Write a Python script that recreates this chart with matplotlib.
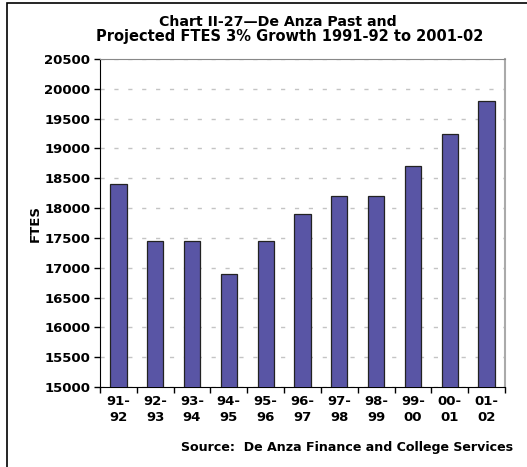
import matplotlib
matplotlib.use('Agg')
import matplotlib.pyplot as plt
from matplotlib.patches import Rectangle

# Données
years = ['91-\n92', '92-\n93', '93-\n94', '94-\n95', '95-\n96', '96-\n97',
         '97-\n98', '98-\n99', '99-\n00', '00-\n01', '01-\n02']
ftes = [18400, 17450, 17450, 16900, 17450, 17900, 18200, 18200, 18700, 19250, 19800]
yticks = list(range(15000, 20501, 500))

W, H = 527, 467
fig = plt.figure(figsize=(W / 100, H / 100), dpi=100)
ax = fig.add_axes([100 / W, 1 - 387 / H, 405 / W, 328 / H])

x = range(len(ftes))
ax.bar(x, ftes, width=0.44, color='#5955a5', edgecolor='#222222', linewidth=0.9, zorder=3)

ax.set_xlim(-0.5, len(ftes) - 0.5)
ax.set_ylim(15000, 20500)
ax.set_yticks(yticks)
ax.set_yticklabels([str(v) for v in yticks], fontsize=9.5, fontweight='bold')
ax.set_xticks(list(x))
ax.set_xticklabels(years, fontsize=9.5, fontweight='bold', linespacing=1.25)
ax.tick_params(axis='x', length=0, pad=6)
ax.set_xticks([i + 0.5 for i in range(-1, len(ftes))], minor=True)
ax.tick_params(axis='x', which='minor', length=4, direction='out', width=1)
ax.tick_params(axis='y', length=4, direction='out', width=1, pad=3)

ax.grid(axis='y', color='#c4c4c4', linestyle=(0, (3, 7)), linewidth=1, zorder=0)

ax.spines['left'].set_color('black')
ax.spines['bottom'].set_color('black')
ax.spines['top'].set_color('#888888')
ax.spines['right'].set_color('#aaaaaa')
ax.spines['right'].set_linewidth(1.5)

ax.set_ylabel('FTES', fontsize=9.5, fontweight='bold', labelpad=2)

# titre sur deux lignes
fig.text(278 / W, 1 - 22 / H, 'Chart II-27\u2014De Anza Past and',
         ha='center', va='center', fontsize=10.2, fontweight='bold')
fig.text(290 / W, 1 - 37 / H, 'Projected FTES 3% Growth 1991-92 to 2001-02',
         ha='center', va='center', fontsize=10.5, fontweight='bold')
fig.text(513 / W, 1 - 448 / H, 'Source:  De Anza Finance and College Services',
         ha='right', va='center', fontsize=9.1, fontweight='bold')

# cadre extérieur
fig.patches.append(Rectangle((7 / W, -0.1), 1.1, 1 - 3 / H + 0.1, transform=fig.transFigure,
                             fill=False, edgecolor='black', linewidth=1.2))

fig.savefig('out.png', dpi=100)
